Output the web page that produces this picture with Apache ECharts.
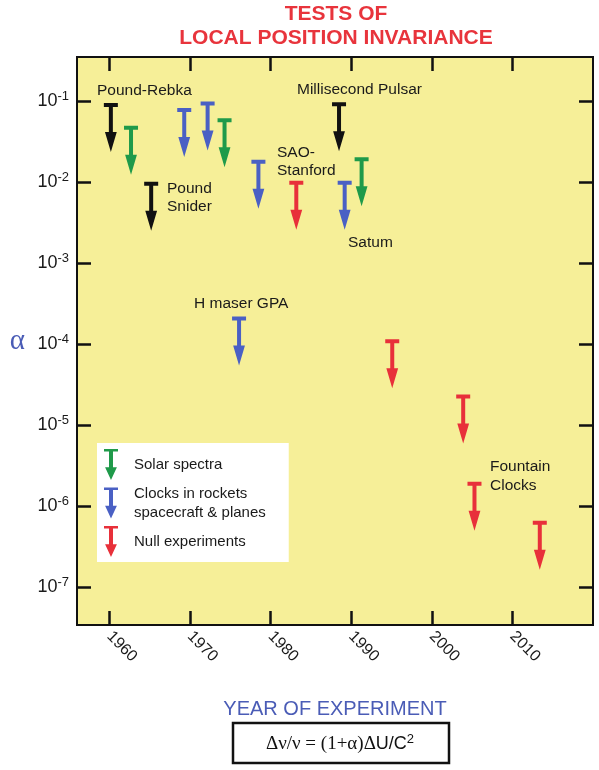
<!DOCTYPE html>
<html>
<head>
<meta charset="utf-8">
<script src="https://cdn.jsdelivr.net/npm/echarts@6/dist/echarts.min.js"></script>
<style>
html, body { margin: 0; padding: 0; background: #fff; }
#main { width: 599px; height: 770px; }
</style>
</head>
<body>
<div id="main"></div>
<script>
// tick positions
var yearTicks = [1960, 1970, 1980, 1990, 2000, 2010];
var alphaExps = [-7, -6, -5, -4, -3, -2, -1];

// upper limits on alpha, one array pair per group
var solarYears = [1962.7, 1974.3, 1991.3];
var solarAlpha = [0.05, 0.062, 0.0205];

var clockYears = [1969.3, 1972.2, 1976.1, 1978.5, 1989.2];
var clockAlpha = [0.083, 0.1, 2.2e-4, 0.019, 0.0105];

var nullYears = [1983.2, 1995.1, 2003.9, 2005.3, 2013.4];
var nullAlpha = [0.0105, 1.15e-4, 2.4e-5, 2.0e-6, 6.6e-7];

// Pound-Rebka, Pound-Snider, millisecond pulsar
var otherYears = [1960.2, 1965.2, 1988.5];
var otherAlpha = [0.096, 0.0102, 0.098];

var font = "'Liberation Sans', Arial, sans-serif";
var serif = "'Liberation Serif', 'DejaVu Serif', serif";

// T-bar with a down arrow, top of the cap is the limit
var arrowPath = 'path://M0,0 H14 V4 H9 V29 H12.9 L7,49 L1.1,29 H5 V4 H0 Z';

function toPoints(years, alphas) {
	var out = [];
	for (var i = 0; i < years.length; i++) {
		out.push([years[i], Math.log10(alphas[i])]);
	}
	return out;
}

function arrowSeries(name, color, years, alphas) {
	return {
		name: name,
		type: 'scatter',
		xAxisIndex: 0,
		yAxisIndex: 0,
		symbol: arrowPath,
		symbolSize: [14, 49],
		symbolOffset: [0, '50%'],
		itemStyle: { color: color, opacity: 1 },
		silent: true,
		data: toPoints(years, alphas)
	};
}

var myChart = echarts.init(document.getElementById('main'));

var option = {
	backgroundColor: '#fff',
	animation: false,
	title: {
		text: 'TESTS OF\nLOCAL POSITION INVARIANCE',
		left: 336,
		top: 2,
		padding: 0,
		textAlign: 'center',
		textStyle: {
			color: '#e8343c',
			fontFamily: font,
			fontWeight: 'bold',
			fontSize: 21,
			lineHeight: 24
		}
	},
	grid: {
		left: 77,
		top: 57,
		right: 6,
		bottom: 145,
		show: true,
		backgroundColor: '#f6ef98',
		borderColor: '#111',
		borderWidth: 2
	},
	legend: {
		orient: 'vertical',
		left: 97,
		top: 443,
		padding: [6, 23, 5, 7],
		backgroundColor: '#fff',
		itemWidth: 14,
		itemHeight: 31,
		itemGap: 4,
		symbolKeepAspect: false,
		selectedMode: false,
		textStyle: {
			fontFamily: font,
			fontSize: 15,
			color: '#1a1a1a',
			lineHeight: 19,
			padding: [0, 0, 0, 11]
		},
		data: [
			{ name: 'Solar spectra', icon: arrowPath },
			{ name: 'Clocks in rockets\nspacecraft & planes', icon: arrowPath },
			{ name: 'Null experiments', icon: arrowPath }
		]
	},
	xAxis: [{
		type: 'value',
		min: 1956,
		max: 2020,
		name: 'YEAR OF EXPERIMENT',
		nameLocation: 'middle',
		nameGap: 74,
		nameTextStyle: { color: '#4a5cb6', fontFamily: font, fontSize: 20 },
		axisLine: { show: true, onZero: false, lineStyle: { color: '#111', width: 2 } },
		axisTick: { show: true, inside: true, length: 14, customValues: yearTicks, lineStyle: { color: '#111', width: 2.5 } },
		axisLabel: {
			customValues: yearTicks,
			rotate: -45,
			margin: 9,
			fontFamily: font,
			fontSize: 16,
			color: '#1a1a1a',
			formatter: function (v) {
				return String(v);
			}
		},
		splitLine: { show: false }
	}, {
		type: 'value',
		position: 'top',
		min: 1956,
		max: 2020,
		axisLine: { show: true, onZero: false, lineStyle: { color: '#111', width: 2 } },
		axisTick: { show: true, inside: true, length: 14, customValues: yearTicks, lineStyle: { color: '#111', width: 2.5 } },
		axisLabel: { show: false },
		splitLine: { show: false }
	}],
	yAxis: [{
		type: 'value',
		min: -7.47,
		max: -0.45,
		name: 'α',
		nameLocation: 'middle',
		nameRotate: 0,
		nameGap: 52,
		nameTextStyle: { color: '#4a5cb6', fontFamily: serif, fontSize: 29 },
		axisLine: { show: true, onZero: false, lineStyle: { color: '#111', width: 2 } },
		axisTick: { show: true, inside: true, length: 14, customValues: alphaExps, lineStyle: { color: '#111', width: 2.5 } },
		axisLabel: {
			customValues: alphaExps,
			margin: 8,
			color: '#1a1a1a',
			fontFamily: font,
			formatter: function (v) {
				return '{b|10}{s|' + v + '}';
			},
			rich: {
				b: { fontFamily: font, fontSize: 18, color: '#1a1a1a' },
				s: { fontFamily: font, fontSize: 13, color: '#1a1a1a', padding: [0, 0, 10, 0] }
			}
		},
		splitLine: { show: false }
	}, {
		type: 'value',
		position: 'right',
		min: -7.47,
		max: -0.45,
		axisLine: { show: true, onZero: false, lineStyle: { color: '#111', width: 2 } },
		axisTick: { show: true, inside: true, length: 14, customValues: alphaExps, lineStyle: { color: '#111', width: 2.5 } },
		axisLabel: { show: false },
		splitLine: { show: false }
	}],
	graphic: [
		{ type: 'text', left: 97, top: 83, style: { text: 'Pound-Rebka', font: '15.5px ' + font, fill: '#1a1a1a' } },
		{ type: 'text', left: 167, top: 180, style: { text: 'Pound\nSnider', font: '15.5px ' + font, fill: '#1a1a1a', lineHeight: 18 } },
		{ type: 'text', left: 297, top: 82, style: { text: 'Millisecond Pulsar', font: '15.5px ' + font, fill: '#1a1a1a' } },
		{ type: 'text', left: 277, top: 144, style: { text: 'SAO-\nStanford', font: '15.5px ' + font, fill: '#1a1a1a', lineHeight: 17.5 } },
		{ type: 'text', left: 348, top: 235, style: { text: 'Satum', font: '15.5px ' + font, fill: '#1a1a1a' } },
		{ type: 'text', left: 194, top: 296, style: { text: 'H maser GPA', font: '15.5px ' + font, fill: '#1a1a1a' } },
		{ type: 'text', left: 490, top: 457, style: { text: 'Fountain\nClocks', font: '15.5px ' + font, fill: '#1a1a1a', lineHeight: 19 } },
		{
			type: 'rect',
			shape: { x: 233, y: 723, width: 216, height: 40 },
			style: { fill: '#fff', stroke: '#111', lineWidth: 2.5 }
		},
		{
			type: 'text',
			x: 340,
			y: 744,
			style: {
				text: '{a|Δν/ν = (1+α)Δ}{c|U/C}{s|2}',
				align: 'center',
				verticalAlign: 'middle',
				rich: {
					a: { fontFamily: serif, fontSize: 19, fill: '#111' },
					c: { fontFamily: font, fontSize: 18, fill: '#111' },
					s: { fontFamily: font, fontSize: 13, fill: '#111', padding: [0, 0, 10, 0] }
				}
			}
		}
	],
	series: [
		arrowSeries('Solar spectra', '#1f9a4a', solarYears, solarAlpha),
		arrowSeries('Clocks in rockets\nspacecraft & planes', '#4a60c4', clockYears, clockAlpha),
		arrowSeries('Null experiments', '#e8303a', nullYears, nullAlpha),
		arrowSeries('Other', '#111111', otherYears, otherAlpha)
	]
};

myChart.setOption(option);
</script>
</body>
</html>
